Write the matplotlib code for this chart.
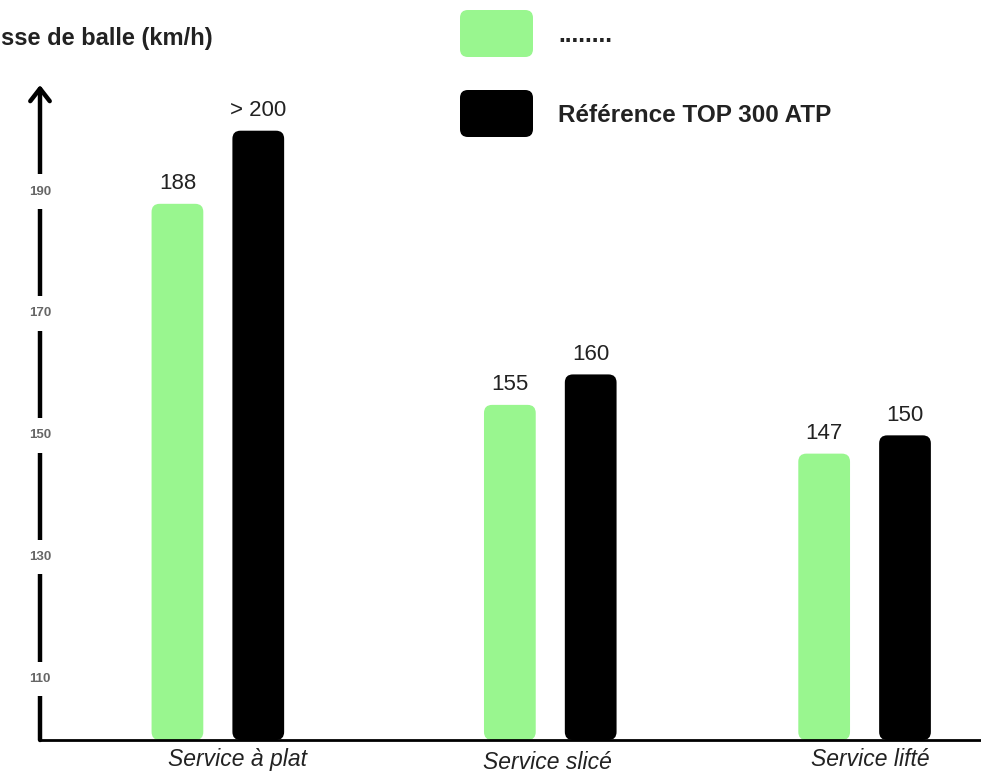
'''Vitesse de service : comparaison avec la reference TOP 300 ATP'''
import matplotlib
matplotlib.use('Agg')
import matplotlib.pyplot as plt
from matplotlib.patches import FancyBboxPatch

plt.rcParams['font.family'] = ['Liberation Sans', 'DejaVu Sans']

categories = ['Service à plat', 'Service slicé', 'Service lifté']
series_names = ['........', 'Référence TOP 300 ATP']
joueur = [188, 155, 147]
reference = [200, 160, 150]
joueur_labels = ['188', '155', '147']
reference_labels = ['> 200', '160', '150']
y_ticks = [110, 130, 150, 170, 190]
y_title = 'sse de balle (km/h)'

GREEN = '#99f68f'
BLACK = '#000000'


def rounded_bars(ax, bars, color, radius, aspect):
    '''Replace plain bars with rounded ones'''
    for bar in bars:
        bar.set_visible(False)
        patch = FancyBboxPatch((bar.get_x(), bar.get_y()), bar.get_width(), bar.get_height(),
                               boxstyle=f'round,pad=0,rounding_size={radius}',
                               mutation_aspect=aspect, fc=color, ec='none', zorder=2)
        ax.add_patch(patch)


def plot_chart():
    '''Draw the chart'''
    fig = plt.figure(figsize=(9.81, 7.74), dpi=100)
    ax = fig.add_axes([40 / 981, 34 / 774, 941 / 981, 655 / 774])
    x = [0, 1.028, 2]
    offset = 0.125
    width = 0.16
    bottom = 100
    ax.set_ylim(bottom, 207.5)
    ax.set_xlim(-0.55, 2.36)

    b1 = ax.bar([i - offset for i in x], [v - bottom for v in joueur], width, bottom=bottom, color=GREEN)
    b2 = ax.bar([i + offset for i in x], [v - bottom for v in reference], width, bottom=bottom, color=BLACK)
    # x units per pixel vs y units per pixel
    aspect = (107.5 / 655) / (2.91 / 941)
    rounded_bars(ax, b1, GREEN, 0.025, aspect)
    rounded_bars(ax, b2, BLACK, 0.025, aspect)

    for bars, labels in ((b1, joueur_labels), (b2, reference_labels)):
        for bar, lab in zip(bars, labels):
            ax.annotate(lab, (bar.get_x() + bar.get_width() / 2, bar.get_y() + bar.get_height()),
                        xytext=(0, 7), textcoords='offset points', ha='center', va='bottom',
                        fontsize=16, color='#222222')

    for side in ('left', 'right', 'top'):
        ax.spines[side].set_visible(False)
    ax.spines['bottom'].set_linewidth(2)
    ax.set_yticks([])
    ax.set_xticks([])

    # category names, slightly off the group centres as in the original drawing
    shifts = [14, -2, 4]
    drops = [-14, -16.5, -14]
    for xi, name, dx, dy in zip(x, categories, shifts, drops):
        ax.annotate(name, (xi, 0), xycoords=ax.get_xaxis_transform(), xytext=(dx, dy),
                    textcoords='offset points', ha='center', va='center',
                    fontsize=16.5, style='italic', color='#222222', annotation_clip=False)

    # vertical axis with arrow
    ax.annotate('', xy=(0, 1), xytext=(0, 0), xycoords='axes fraction',
                arrowprops=dict(arrowstyle='->,head_length=0.9,head_width=0.7', lw=3.2,
                                color='black', shrinkA=0, shrinkB=0), annotation_clip=False)
    for t in y_ticks:
        ax.text(0, t, str(t), transform=ax.get_yaxis_transform(), ha='center', va='center',
                fontsize=9.5, fontweight='bold', color='#666666', zorder=5,
                bbox=dict(boxstyle='square,pad=0.85', fc='white', ec='none'))

    fig.text(1 / 981, 1 - 38 / 774, y_title, ha='left', va='center',
             fontsize=17, fontweight='bold', color='#222222')

    # legend
    colors = [GREEN, BLACK]
    for k, (name, col) in enumerate(zip(series_names, colors)):
        top = 10 + k * 80
        box = FancyBboxPatch((460 / 981, 1 - (top + 47) / 774), 73 / 981, 47 / 774,
                             boxstyle='round,pad=0,rounding_size=0.008',
                             mutation_aspect=981 / 774, transform=fig.transFigure,
                             fc=col, ec='none')
        fig.patches.append(box)
        fig.text(558 / 981, 1 - (top + 25) / 774, name, ha='left', va='center',
                 fontsize=17.5, fontweight='bold', color='#222222')

    fig.savefig('out.png', dpi=100)


plot_chart()
